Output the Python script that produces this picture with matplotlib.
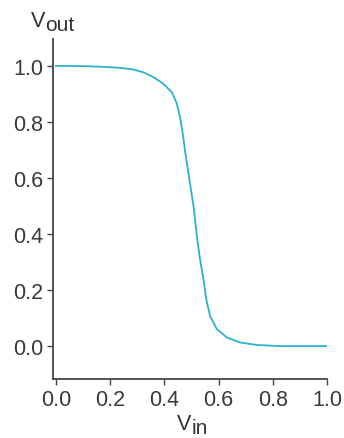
import numpy as np
import matplotlib.pyplot as plt

plt.rcParams['font.family'] = 'Liberation Sans'

# transfer curve
vin = [0.0, 0.1, 0.162, 0.236, 0.285, 0.322, 0.359, 0.396, 0.427, 0.445, 0.458,
       0.468, 0.477, 0.488, 0.507, 0.521, 0.531, 0.544, 0.554, 0.568, 0.593,
       0.630, 0.679, 0.741, 0.827, 0.90, 1.0]
vout = [1.0, 0.999, 0.997, 0.993, 0.987, 0.977, 0.960, 0.936, 0.906, 0.868, 0.815,
        0.755, 0.690, 0.620, 0.501, 0.382, 0.311, 0.239, 0.168, 0.108, 0.061,
        0.031, 0.013, 0.004, 0.0, 0.0, 0.0]
ticks = [0.0, 0.2, 0.4, 0.6, 0.8, 1.0]

fig = plt.figure(figsize=(3.44, 4.39), dpi=100)
ax = fig.add_axes([0.154, 0.134, 0.797, 0.775])
ax.plot(vin, vout, color='#2bb2cc', lw=1.3, solid_joinstyle='round')

ax.set_xlim(-0.011, 1.0)
ax.set_ylim(-0.118, 1.096)
ax.set_xticks(ticks)
ax.set_yticks(ticks)
ax.set_xticklabels(['%.1f' % t for t in ticks])
ax.set_yticklabels(['%.1f' % t for t in ticks])
for s in ['top', 'right']:
    ax.spines[s].set_visible(False)
for s in ['left', 'bottom']:
    ax.spines[s].set_color('#444444')
    ax.spines[s].set_linewidth(1.3)
ax.tick_params(colors='#444444', labelcolor='#3a3a3a', labelsize=15.5, length=4, width=1, pad=3)

# axis titles: V with a same-size lowered subscript
fig.text(0.090, 0.9385, 'V', fontsize=15.5, color='#333333', va='baseline')
fig.text(0.131, 0.929, 'out', fontsize=15, color='#333333', va='baseline')
fig.text(0.5145, 0.021, 'V', fontsize=15.5, color='#333333', va='baseline')
fig.text(0.558, 0.012, 'in', fontsize=15, color='#333333', va='baseline')

plt.savefig('out.png', dpi=100)
